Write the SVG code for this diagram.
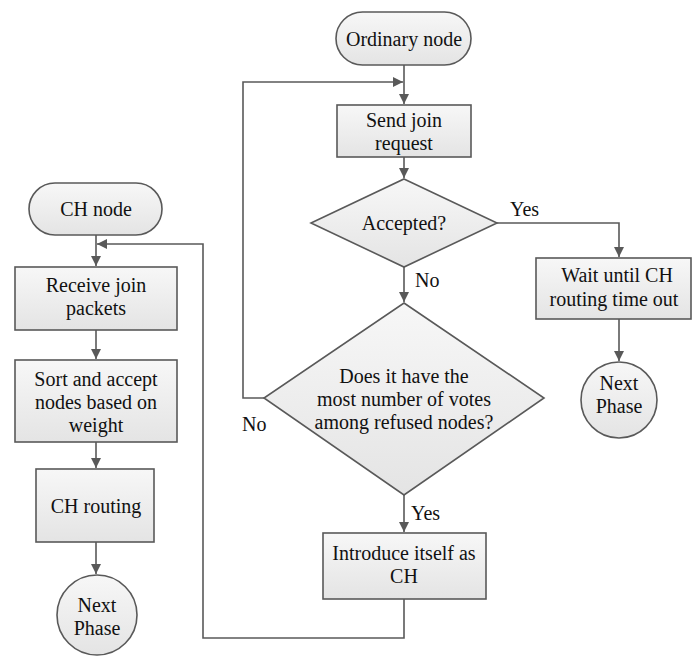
<svg xmlns="http://www.w3.org/2000/svg" width="692" height="658" viewBox="0 0 692 658">
  <style>
    .shape { fill: url(#fillGrad); stroke: #595959; stroke-width: 1.6; }
    .edge { fill: none; stroke: #595959; stroke-width: 1.6; }
    .t { font-family: "Times New Roman", Times, "Liberation Serif", Tinos, "Noto Serif", "DejaVu Serif", serif; font-size: 20px; fill: #111; text-anchor: middle; }
    .lbl { text-anchor: start; }
  </style>
  <defs>
    <linearGradient id="fillGrad" x1="0" y1="0" x2="0" y2="1">
      <stop offset="0" stop-color="#f7f7f7"/>
      <stop offset="1" stop-color="#e4e4e4"/>
    </linearGradient>
    <marker id="arrow" viewBox="0 0 10 10" refX="10" refY="5" markerWidth="10" markerHeight="10" markerUnits="userSpaceOnUse" orient="auto">
      <path d="M0,0 L10,5 L0,10 Z" fill="#595959"/>
    </marker>
  </defs>

  <!-- connectors -->
  <g id="connectors">
    <!-- CH node branch -->
    <path class="edge" d="M96,235 V266" marker-end="url(#arrow)"/>
    <path class="edge" d="M96,330 V359" marker-end="url(#arrow)"/>
    <path class="edge" d="M96,442 V468" marker-end="url(#arrow)"/>
    <path class="edge" d="M96,542 V574" marker-end="url(#arrow)"/>
    <!-- ordinary node branch -->
    <path class="edge" d="M404,65 V104" marker-end="url(#arrow)"/>
    <path class="edge" d="M404,157 V178" marker-end="url(#arrow)"/>
    <path class="edge" d="M497,223 H619 V257" marker-end="url(#arrow)"/>
    <path class="edge" d="M619,319 V361" marker-end="url(#arrow)"/>
    <path class="edge" d="M404,267 V302" marker-end="url(#arrow)"/>
    <path class="edge" d="M404,495 V532" marker-end="url(#arrow)"/>
    <!-- "No" loop back to join request -->
    <path class="edge" d="M264,398 H243 V82 H403" marker-end="url(#arrow)"/>
    <!-- new CH feeds the CH branch -->
    <path class="edge" d="M404,599 V638 H203 V244 H97" marker-end="url(#arrow)"/>
    <!-- branch labels -->
    <text class="t lbl" x="510" y="216">Yes</text>
    <text class="t lbl" x="415" y="287">No</text>
    <text class="t lbl" x="242" y="431">No</text>
    <text class="t lbl" x="411" y="520">Yes</text>
  </g>

  <g id="ch-node">
    <rect class="shape" x="29" y="183" width="133" height="52" rx="26"/>
    <text class="t" x="96" y="216">CH node</text>
  </g>
  <g id="receive-join">
    <rect class="shape" x="15" y="267" width="162" height="63"/>
    <text class="t" x="96" y="292">Receive join</text>
    <text class="t" x="96" y="315">packets</text>
  </g>
  <g id="sort-accept">
    <rect class="shape" x="15" y="360" width="162" height="82"/>
    <text class="t" x="96" y="386">Sort and accept</text>
    <text class="t" x="96" y="409">nodes based on</text>
    <text class="t" x="96" y="432">weight</text>
  </g>
  <g id="ch-routing">
    <rect class="shape" x="36" y="469" width="118" height="73"/>
    <text class="t" x="96" y="513">CH routing</text>
  </g>
  <g id="next-phase-left">
    <circle class="shape" cx="97" cy="615" r="40"/>
    <text class="t" x="97" y="612">Next</text>
    <text class="t" x="97" y="635">Phase</text>
  </g>

  <g id="ordinary-node">
    <rect class="shape" x="336" y="12" width="135" height="53" rx="26.5"/>
    <text class="t" x="404" y="46">Ordinary node</text>
  </g>
  <g id="send-join">
    <rect class="shape" x="337" y="105" width="134" height="52"/>
    <text class="t" x="404" y="127">Send join</text>
    <text class="t" x="404" y="150">request</text>
  </g>
  <g id="accepted">
    <polygon class="shape" points="404,179 497,223 404,267 311,223"/>
    <text class="t" x="404" y="230">Accepted?</text>
  </g>
  <g id="wait-timeout">
    <rect class="shape" x="536" y="258" width="155" height="61"/>
    <text class="t" x="617" y="282">Wait until CH</text>
    <text class="t" x="614" y="306">routing time out</text>
  </g>
  <g id="next-phase-right">
    <circle class="shape" cx="619" cy="400" r="38"/>
    <text class="t" x="619" y="390">Next</text>
    <text class="t" x="619" y="413">Phase</text>
  </g>
  <g id="most-votes">
    <polygon class="shape" points="404,303 544,398 404,495 264,398"/>
    <text class="t" x="404" y="383">Does it have the</text>
    <text class="t" x="404" y="406">most number of votes</text>
    <text class="t" x="404" y="429">among refused nodes?</text>
  </g>
  <g id="introduce-ch">
    <rect class="shape" x="323" y="533" width="163" height="66"/>
    <text class="t" x="404" y="560">Introduce itself as</text>
    <text class="t" x="404" y="583">CH</text>
  </g>
</svg>
